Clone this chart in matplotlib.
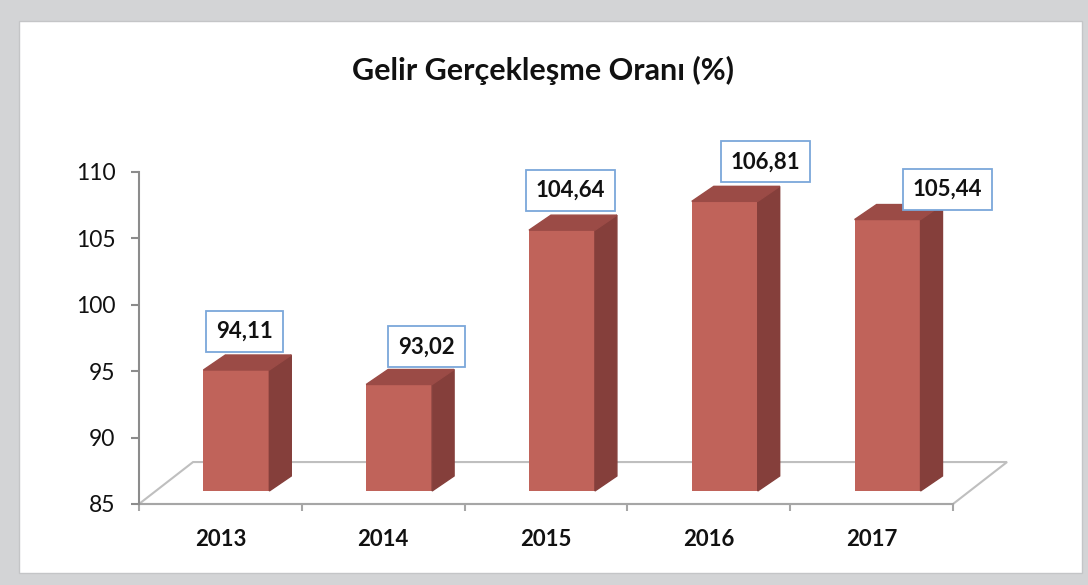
import matplotlib
matplotlib.use('Agg')
import matplotlib.pyplot as plt
from matplotlib.patches import Rectangle, Polygon

plt.rcParams['font.family'] = ['Lato', 'DejaVu Sans']

# veriler
years = ['2013', '2014', '2015', '2016', '2017']
rates = [94.11, 93.02, 104.64, 106.81, 105.44]
labels = ['94,11', '93,02', '104,64', '106,81', '105,44']
title = 'Gelir Gerçekleşme Oranı (%)'

y_min, y_max = 85, 110
y_ticks = [85, 90, 95, 100, 105, 110]

# 3B görünüm için kaydırmalar (veri birimi)
bar_w = 0.405
bar_dx, bar_dy = 0.098, 0.98      # çubuk önyüzünün zemine göre kayması
side_dx, side_dy = 0.135, 1.13    # çubuk derinliği
floor_dx, floor_dy = 0.332, 3.16  # zemin derinliği
# etiket kutularının elle kaydırılması (piksel)
label_dx = [3, 22, -3, 29, 48]
label_dy = [3, 2, 4, 4, -5]

c_front = '#c0635a'
c_side = '#853f3b'
c_top = '#9b4b46'

fig = plt.figure(figsize=(10.88, 5.85), dpi=100, facecolor='#d3d4d6')
fig.patches.append(Rectangle((19 / 1088, 12 / 585), 1063 / 1088, 552 / 585,
                             transform=fig.transFigure, facecolor='white',
                             edgecolor='#c4c5c7', lw=1, zorder=-5))

ax = fig.add_axes([139 / 1088, 81 / 585, 814 / 1088, 332 / 585])
ax.set_facecolor('none')
ax.set_xlim(0, len(years))
ax.set_ylim(y_min, y_max)

# zemin
n = len(years)
floor = Polygon([(0, y_min), (n, y_min), (n + floor_dx, y_min + floor_dy),
                 (floor_dx, y_min + floor_dy)], closed=True, facecolor='white',
                edgecolor='#bfbfbf', lw=1.5, clip_on=False, zorder=1)
ax.add_patch(floor)

# çubuklar
for i, v in enumerate(rates):
    xl = i + 0.5 + bar_dx - bar_w / 2
    xr = xl + bar_w
    b = y_min + bar_dy
    t = v + bar_dy
    ax.bar(xl, v - y_min, width=bar_w, bottom=b, align='edge',
           color=c_front, zorder=3, clip_on=False)
    ax.add_patch(Polygon([(xr, b), (xr + side_dx, b + side_dy),
                          (xr + side_dx, t + side_dy), (xr, t)],
                         closed=True, color=c_side, zorder=3, clip_on=False))
    ax.add_patch(Polygon([(xl, t), (xr, t), (xr + side_dx, t + side_dy),
                          (xl + side_dx, t + side_dy)],
                         closed=True, color=c_top, zorder=3, clip_on=False))
    ax.annotate(labels[i], xy=(xl, t + side_dy),
                xytext=(label_dx[i] + 10, label_dy[i] + 10),
                textcoords='offset pixels', ha='left', va='bottom',
                fontsize=16, fontweight='bold', color='#111111', zorder=5,
                bbox=dict(boxstyle='square,pad=0.45', facecolor='white',
                          edgecolor='#7ba7da', lw=1.3))

# eksenler
for s in ['top', 'right']:
    ax.spines[s].set_visible(False)
ax.spines['left'].set_color('#8c8c8c')
ax.spines['left'].set_linewidth(1.5)
ax.spines['bottom'].set_color('#a6a6a6')
ax.spines['bottom'].set_linewidth(1.5)
ax.spines['bottom'].set_zorder(2)

ax.set_yticks(y_ticks)
ax.set_yticklabels([str(t) for t in y_ticks], fontsize=16.5, color='#111111')
ax.tick_params(axis='y', length=6, width=1.5, color='#8c8c8c', pad=11)

ax.set_xticks(range(n + 1))
ax.set_xticklabels([])
ax.tick_params(axis='x', which='major', length=5, width=1.5, color='#a6a6a6')
ax.set_xticks([i + 0.5 for i in range(n)], minor=True)
ax.set_xticklabels(years, minor=True, fontsize=16, fontweight='bold',
                   color='#111111')
ax.tick_params(axis='x', which='minor', length=0, pad=18)

fig.text(543 / 1088, 1 - 70 / 585, title, ha='center', va='center',
         fontsize=22, fontweight='bold', color='#111111')

fig.savefig('out.png', dpi=100, facecolor=fig.get_facecolor())
